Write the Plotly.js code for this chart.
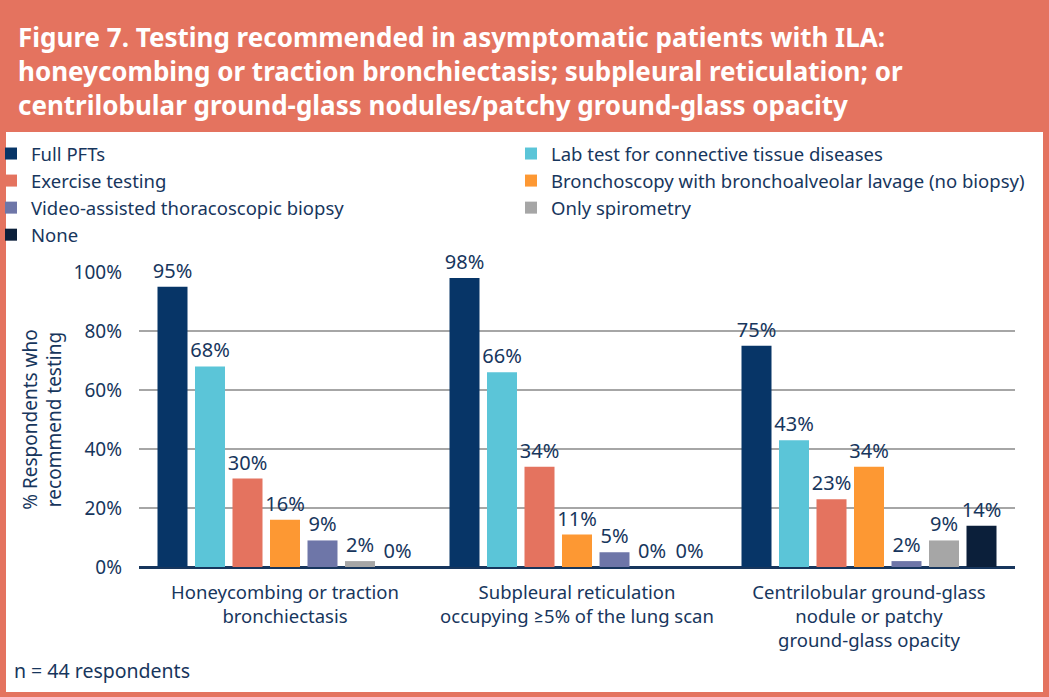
<!DOCTYPE html>
<html>
<head>
<meta charset="utf-8">
<script src="https://cdn.plot.ly/plotly-3.0.1.min.js"></script>
<style>
html, body { margin: 0; padding: 0; background: #e4735f; }
#chart { width: 1049px; height: 697px; }
</style>
</head>
<body>
<div id="chart"></div>
<script>
// ---- data ----
var categories = [
  "Honeycombing or traction<br>bronchiectasis",
  "Subpleural reticulation<br>occupying ≥5% of the lung scan",
  "Centrilobular ground-glass<br>nodule or patchy<br>ground-glass opacity"
];
var seriesNames = [
  "Full PFTs",
  "Lab test for connective tissue diseases",
  "Exercise testing",
  "Bronchoscopy with bronchoalveolar lavage (no biopsy)",
  "Video-assisted thoracoscopic biopsy",
  "Only spirometry",
  "None"
];
var fullPFTs      = [95, 98, 75];
var labTest       = [68, 66, 43];
var exercise      = [30, 34, 23];
var bronchoscopy  = [16, 11, 34];
var vats          = [9, 5, 2];
var spirometry    = [2, 0, 9];
var none          = [0, 0, 14];
var yTickValues   = [0, 20, 40, 60, 80, 100];
var yTickLabels   = ["0%", "20%", "40%", "60%", "80%", "100%"];
var titleText = "Figure 7. Testing recommended in asymptomatic patients with ILA:<br>" +
                "honeycombing or traction bronchiectasis; subpleural reticulation; or<br>" +
                "centrilobular ground-glass nodules/patchy ground-glass opacity";
var yTitle = "% Respondents who<br>recommend testing";
var footnote = "n = 44 respondents";

// ---- styles ----
var seriesValues = [fullPFTs, labTest, exercise, bronchoscopy, vats, spirometry, none];
var colors = ["#073567", "#5bc5d8", "#e4735f", "#fd9833", "#6e76a8", "#a6a6a6", "#0b1f3a"];
var legendIds = ["legend", "legend2", "legend", "legend2", "legend", "legend2", "legend"];
var textColor = "#17365d";
var bodyFont = "Noto Sans, Lato, sans-serif";

var traces = seriesNames.map(function (name, i) {
  return {
    type: "bar",
    name: name,
    x: categories,
    y: seriesValues[i],
    marker: { color: colors[i] },
    text: seriesValues[i].map(function (v) { return v + "%"; }),
    textposition: "outside",
    textangle: 0,
    constraintext: "none",
    cliponaxis: false,
    textfont: { family: bodyFont, size: 20, color: textColor },
    legend: legendIds[i],
    hoverinfo: "x+y+name"
  };
});

var W = 1049, H = 697;
var m = { l: 139, r: 34, t: 272, b: 130, autoexpand: false };
var pw = W - m.l - m.r, ph = H - m.t - m.b;
function px(x) { return (x - m.l) / pw; }
function py(y) { return (H - m.b - y) / ph; }

var layout = {
  width: W, height: H,
  margin: m,
  paper_bgcolor: "#e4735f",
  plot_bgcolor: "rgba(0,0,0,0)",
  font: { family: bodyFont, color: textColor, size: 18 },
  barmode: "group",
  bargap: 0.101,
  bargroupgap: 0.2,
  title: {
    text: titleText,
    font: { family: "Noto Sans, sans-serif", size: 26, color: "#ffffff", weight: 700 },
    x: 18 / W, xref: "container", xanchor: "left",
    y: 1 - 47 / H, yref: "container", yanchor: "top"
  },
  xaxis: {
    type: "category",
    range: [-0.5, 2.5],
    showgrid: false,
    showline: false,
    zeroline: false,
    ticks: "",
    ticklabelstandoff: 12,
    tickfont: { family: bodyFont, size: 18.5, color: textColor },
    automargin: false,
    fixedrange: true
  },
  yaxis: {
    range: [0, 100],
    tickmode: "array",
    tickvals: yTickValues,
    ticktext: yTickLabels,
    showgrid: true,
    gridcolor: "#a6a6a6",
    gridwidth: 2,
    zeroline: true,
    zerolinecolor: "#17365d",
    zerolinewidth: 3,
    ticks: "",
    ticklabelstandoff: 16,
    tickfont: { family: bodyFont, size: 19, color: textColor },
    title: { text: yTitle, font: { family: bodyFont, size: 19, color: textColor }, standoff: 6 },
    automargin: false,
    fixedrange: true
  },
  legend: {
    orientation: "v",
    x: px(-9), xanchor: "left",
    y: py(135), yanchor: "top",
    bgcolor: "rgba(0,0,0,0)",
    font: { family: bodyFont, size: 18.5, color: textColor },
    itemclick: false, itemdoubleclick: false,
    tracegroupgap: 0
  },
  legend2: {
    orientation: "v",
    x: px(511), xanchor: "left",
    y: py(135), yanchor: "top",
    bgcolor: "rgba(0,0,0,0)",
    font: { family: bodyFont, size: 18.5, color: textColor },
    itemclick: false, itemdoubleclick: false,
    tracegroupgap: 0
  },
  shapes: [{
    type: "rect", layer: "below",
    xref: "paper", yref: "paper",
    x0: px(6), x1: px(1043), y0: py(692), y1: py(132),
    fillcolor: "#ffffff", line: { width: 0 }
  }],
  annotations: [{
    text: footnote,
    xref: "paper", yref: "paper",
    x: px(12), y: py(670),
    xanchor: "left", yanchor: "middle",
    showarrow: false,
    font: { family: bodyFont, size: 19.5, color: textColor }
  }]
};

Plotly.newPlot("chart", traces, layout, { displayModeBar: false });
</script>
</body>
</html>
